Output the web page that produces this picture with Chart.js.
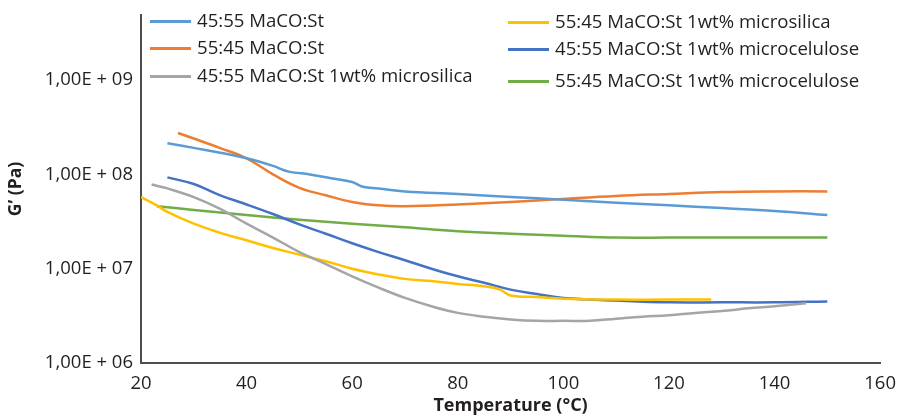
<!DOCTYPE html>
<html>
<head>
<meta charset="utf-8">
<script src="https://cdn.jsdelivr.net/npm/chart.js@4.4.1/dist/chart.umd.min.js"></script>
<style>
  body { margin: 0; background: #fff; }
  #wrap { position: relative; width: 898px; height: 417px; }
  #legend div { position: absolute; font-family: "Open Sans", sans-serif; font-size: 18.6px; color: #231f20; white-space: nowrap; line-height: 20px; }
  #legend span { display: inline-block; width: 41px; height: 3px; vertical-align: middle; margin-right: 6px; position: relative; top: -1px; }
</style>
</head>
<body>
<div id="wrap">
  <canvas id="gchart" width="898" height="417"></canvas>
  <div id="legend"></div>
</div>
<script>
// temperatures (°C) and G' (Pa)
var tBlue = [25, 30, 35, 40, 45, 48, 52, 56, 60, 62, 65, 70, 80, 90, 100, 110, 120, 130, 140, 150];
var gBlue = [2.14e8, 1.91e8, 1.70e8, 1.48e8, 1.23e8, 1.07e8, 1.0e8, 9.1e7, 8.3e7, 7.4e7, 7.1e7, 6.6e7, 6.2e7, 5.75e7, 5.4e7, 5.0e7, 4.7e7, 4.4e7, 4.1e7, 3.7e7];

var tOrange = [27, 30, 35, 40, 45, 50, 55, 60, 65, 70, 80, 90, 100, 110, 120, 130, 140, 150];
var gOrange = [2.75e8, 2.4e8, 1.9e8, 1.48e8, 1.0e8, 7.2e7, 6.0e7, 5.1e7, 4.7e7, 4.6e7, 4.8e7, 5.1e7, 5.5e7, 5.9e7, 6.2e7, 6.5e7, 6.6e7, 6.6e7];

var tGray = [22, 25, 30, 35, 40, 45, 50, 55, 60, 65, 70, 75, 80, 85, 90, 95, 100, 105, 110, 115, 120, 125, 130, 135, 140, 146];
var gGray = [7.8e7, 7.1e7, 5.75e7, 4.3e7, 3.0e7, 2.14e7, 1.5e7, 1.12e7, 8.3e6, 6.3e6, 4.9e6, 4.0e6, 3.4e6, 3.1e6, 2.9e6, 2.8e6, 2.8e6, 2.8e6, 2.95e6, 3.1e6, 3.2e6, 3.4e6, 3.55e6, 3.8e6, 4.0e6, 4.3e6];

var tYellow = [20, 23, 25, 30, 35, 40, 45, 50, 55, 60, 65, 70, 75, 80, 85, 88, 90, 95, 100, 110, 120, 128];
var gYellow = [5.75e7, 4.7e7, 4.0e7, 3.0e7, 2.4e7, 2.0e7, 1.66e7, 1.41e7, 1.2e7, 1.0e7, 8.7e6, 7.8e6, 7.4e6, 6.9e6, 6.5e6, 6.0e6, 5.2e6, 5.0e6, 4.8e6, 4.7e6, 4.7e6, 4.7e6];

var tDarkBlue = [25, 30, 35, 40, 45, 50, 55, 60, 65, 70, 75, 80, 85, 90, 95, 100, 110, 120, 130, 140, 150];
var gDarkBlue = [9.3e7, 7.9e7, 6.0e7, 4.8e7, 3.8e7, 2.95e7, 2.35e7, 1.86e7, 1.5e7, 1.23e7, 1.0e7, 8.3e6, 7.1e6, 6.0e6, 5.4e6, 4.9e6, 4.6e6, 4.4e6, 4.4e6, 4.4e6, 4.5e6];

var tGreen = [23, 30, 40, 50, 60, 70, 80, 90, 100, 110, 120, 130, 140, 150];
var gGreen = [4.6e7, 4.2e7, 3.7e7, 3.3e7, 3.0e7, 2.75e7, 2.5e7, 2.35e7, 2.24e7, 2.14e7, 2.14e7, 2.14e7, 2.14e7, 2.14e7];

var seriesNames = [
    '45:55 MaCO:St',
    '55:45 MaCO:St',
    '45:55 MaCO:St 1wt% microsilica',
    '55:45 MaCO:St 1wt% microsilica',
    '45:55 MaCO:St 1wt% microcelulose',
    '55:45 MaCO:St 1wt% microcelulose'
];
var seriesColors = ['#5b9bd5', '#ed7d31', '#a5a5a5', '#ffc000', '#4472c4', '#70ad47'];

var xTicks = [20, 40, 60, 80, 100, 120, 140, 160];
var yTicks = [1e6, 1e7, 1e8, 1e9];
var yTickLabels = ['1,00E + 06', '1,00E + 07', '1,00E + 08', '1,00E + 09'];

function pts(t, g){
    let out = [];
    for(let i=0; i<t.length; i++){
        out.push({x: t[i], y: g[i]});
    }
    return out;
}

var allT = [tBlue, tOrange, tGray, tYellow, tDarkBlue, tGreen];
var allG = [gBlue, gOrange, gGray, gYellow, gDarkBlue, gGreen];

let datasets = [];
for(let i=0; i<seriesNames.length; i++){
    datasets.push({
        label: seriesNames[i],
        data: pts(allT[i], allG[i]),
        borderColor: seriesColors[i],
        backgroundColor: seriesColors[i],
        borderWidth: 2.5,
        pointRadius: 0,
        tension: 0.4,
        fill: false
    });
}

// legend, two columns like the figure
let legendEl = document.getElementById('legend');
let legendPos = [[150, 10], [150, 37], [150, 65], [508, 11], [508, 38], [508, 70]];
for(let i=0; i<seriesNames.length; i++){
    let d = document.createElement('div');
    d.style.left = legendPos[i][0] + 'px';
    d.style.top = legendPos[i][1] + 'px';
    d.innerHTML = '<span style="background:' + seriesColors[i] + '"></span>' + seriesNames[i];
    legendEl.appendChild(d);
}

const ctx = document.getElementById('gchart');
const gChart = new Chart(ctx, {
    type: 'line',
    data: { datasets: datasets },
    options: {
        responsive: false,
        animation: false,
        layout: { padding: { top: 15, right: 5, left: 0, bottom: 0 } },
        plugins: {
            legend: { display: false },
            tooltip: { enabled: false }
        },
        scales: {
            x: {
                type: 'linear',
                min: 20,
                max: 160,
                afterBuildTicks: function(scale){ scale.ticks = xTicks.map(v => ({value: v})); },
                afterFit: function(scale){ scale.height = 54; },
                grid: { display: false },
                border: { display: true, color: '#4d4d4d', width: 2 },
                ticks: {
                    color: '#231f20',
                    padding: 2,
                    maxRotation: 0,
                    font: { family: 'Open Sans', size: 18.5 }
                },
                title: {
                    display: true,
                    text: 'Temperature (°C)',
                    color: '#231f20',
                    padding: { top: 0, bottom: 0 },
                    font: { family: 'Open Sans', size: 18, weight: 'bold' }
                }
            },
            y: {
                type: 'logarithmic',
                min: 1e6,
                max: 4.9e9,
                afterBuildTicks: function(scale){ scale.ticks = yTicks.map(v => ({value: v})); },
                afterFit: function(scale){ scale.width = 141; },
                grid: { display: false },
                border: { display: true, color: '#4d4d4d', width: 2 },
                ticks: {
                    color: '#231f20',
                    padding: 0,
                    font: { family: 'Open Sans', size: 18.5 },
                    callback: function(value){
                        let idx = yTicks.indexOf(value);
                        return idx >= 0 ? yTickLabels[idx] : '';
                    }
                },
                title: {
                    display: true,
                    text: 'G’ (Pa)',
                    color: '#231f20',
                    padding: { top: 6, bottom: 0 },
                    font: { family: 'Open Sans', size: 17.5, weight: 'bold' }
                }
            }
        }
    }
});
</script>
</body>
</html>
